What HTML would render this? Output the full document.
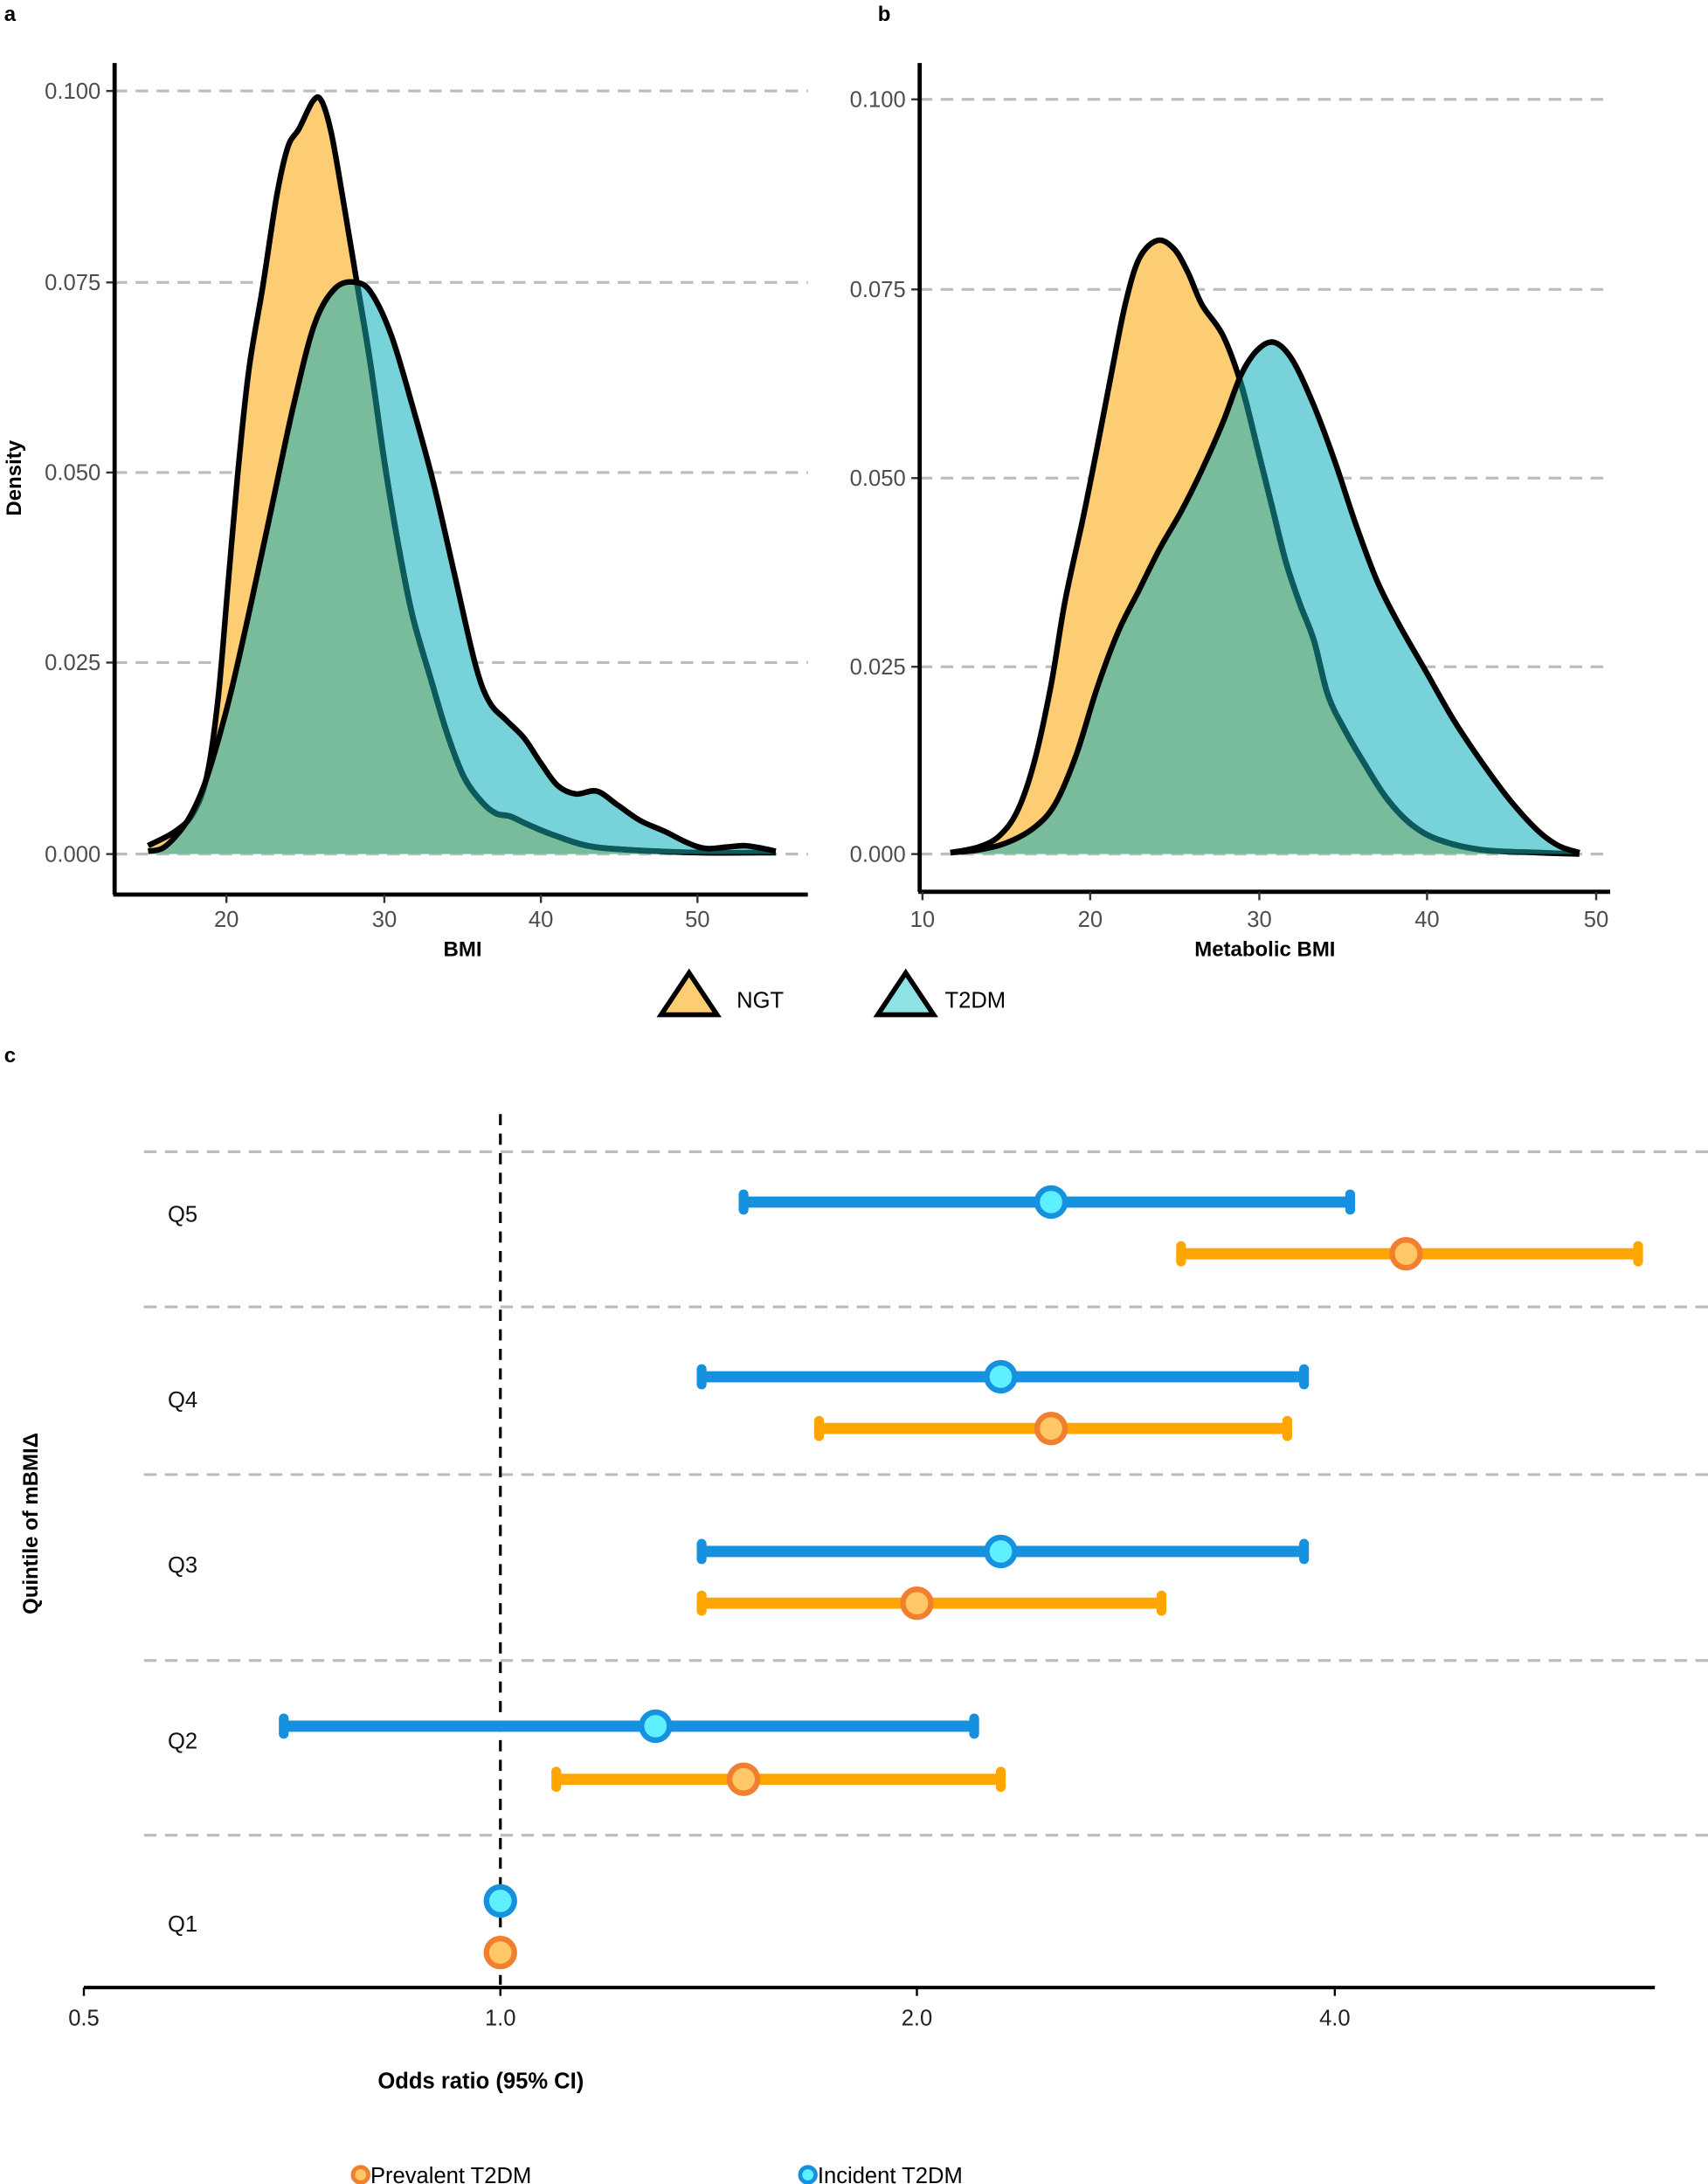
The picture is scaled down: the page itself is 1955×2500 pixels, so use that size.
<!DOCTYPE html>
<html><head><meta charset="utf-8"><style>
html,body{margin:0;padding:0;background:#fff;}
svg{display:block;}
text{font-family:"Liberation Sans",Arial,sans-serif;}
</style></head><body>
<svg id="s" width="1955" height="2500" viewBox="0 0 1222 1562.5" xmlns="http://www.w3.org/2000/svg">
<defs></defs>
<g id="root"></g>
</svg>
<script>
const NS="http://www.w3.org/2000/svg";
const root=document.getElementById('root'), defs=document.querySelector('defs');
function el(tag,attrs,parent,txt){if(typeof parent==='string'){txt=parent;parent=root;}
const e=document.createElementNS(NS,tag);for(const k in attrs)e.setAttribute(k,attrs[k]);if(txt!==undefined)e.textContent=txt;(parent||root).appendChild(e);return e;}
function cr(p){let d=`M${p[0][0]},${p[0][1]}`;for(let i=0;i<p.length-1;i++){const p0=p[i-1]||p[i],p1=p[i],p2=p[i+1],p3=p[i+2]||p2;
d+=` C${p1[0]+(p2[0]-p0[0])/6},${p1[1]+(p2[1]-p0[1])/6} ${p2[0]-(p3[0]-p1[0])/6},${p2[1]-(p3[1]-p1[1])/6} ${p2[0]},${p2[1]}`;}return d;}
const GRID='#bdbdbd', TXT='#4d4d4d';
function density(id,xaxis,grids,ngt,t2,base){
  const dN=cr(ngt), dT=cr(t2);
  const close=(d,p)=>d+` L${p[p.length-1][0]},${base} L${p[0][0]},${base} Z`;
  const fN=close(dN,ngt), fT=close(dT,t2);
  const cp=el('clipPath',{id:id+'cN'},defs); el('path',{d:fN},cp);
  const ct=el('clipPath',{id:id+'cT'},defs); el('path',{d:fT},ct);
  grids.forEach(g=>{el('line',{x1:xaxis.x0,x2:xaxis.x1,y1:g[0],y2:g[0],stroke:GRID,'stroke-width':2,'stroke-dasharray':'9,6'});
    el('line',{x1:xaxis.x0-6,x2:xaxis.x0,y1:g[0],y2:g[0],stroke:'#333','stroke-width':1.5});
    el('text',{x:xaxis.x0-10,y:g[0]+5.5,'text-anchor':'end','font-size':16,fill:TXT},g[1]);});
  el('path',{d:fN,fill:'#fdcd73'}); el('path',{d:fT,fill:'#77d3d9'});
  el('path',{d:fT,fill:'#78bc9b','clip-path':`url(#${id}cN)`});
  el('path',{d:dN,fill:'none',stroke:'#000','stroke-width':4,'stroke-linejoin':'round'});
  el('path',{d:dN,fill:'none',stroke:'#0d5a5c','stroke-width':4.2,'clip-path':`url(#${id}cT)`});
  el('path',{d:dT,fill:'none',stroke:'#000','stroke-width':4,'stroke-linejoin':'round'});
}
density('a',{x0:82,x1:578},[[65,'0.100'],[202,'0.075'],[338,'0.050'],[474,'0.025'],[611,'0.000']],
[[106,605],[125,595],[138,582],[148,555],[156,500],[163,420],[170,340],[178,265],[188,205],[198,140],[206,105],[214,92],[224,72],[230,72],[237,95],[245,140],[255,200],[265,260],[275,330],[285,390],[295,440],[308,485],[320,525],[332,556],[345,574],[355,582],[365,584],[378,590],[395,597],[420,605],[450,608],[500,610],[555,610]],
[[106,609],[116,607],[126,598],[136,584],[146,562],[156,530],[166,492],[180,430],[195,360],[210,290],[225,232],[240,206],[255,202],[266,210],[280,240],[295,290],[310,345],[325,410],[340,475],[350,502],[362,515],[375,528],[387,546],[399,562],[412,568],[427,566],[442,576],[458,587],[476,595],[492,603],[505,607],[520,606],[533,605],[546,607],[555,609]],611);
density('b',{x0:658,x1:1152},[[71,'0.100'],[207,'0.075'],[342,'0.050'],[477,'0.025'],[611,'0.000']],
[[680,610],[700,606],[715,598],[728,580],[740,545],[752,490],[762,430],[775,370],[785,320],[795,268],[805,218],[815,185],[828,172],[840,178],[850,195],[860,218],[875,240],[888,275],[900,322],[910,362],[920,402],[930,432],[940,458],[950,497],[962,522],[976,546],[992,571],[1010,590],[1030,601],[1060,608],[1100,610],[1130,611]],
[[680,610],[700,608],[720,603],[740,592],[755,575],[770,540],[785,492],[800,452],[815,422],[830,392],[845,366],[860,336],[875,302],[888,268],[900,250],[912,245],[925,258],[940,290],[955,330],[970,375],[985,415],[1000,445],[1020,480],[1040,515],[1060,545],[1080,572],[1100,594],[1115,605],[1130,610]],611);
el('line',{x1:82,x2:82,y1:45,y2:640,stroke:'#000','stroke-width':3});
el('line',{x1:81,x2:578,y1:640,y2:640,stroke:'#000','stroke-width':3});
[[162,'20'],[275,'30'],[387,'40'],[499,'50']].forEach(t=>{el('line',{x1:t[0],x2:t[0],y1:640,y2:646,stroke:'#333','stroke-width':1.5});el('text',{x:t[0],y:663,'text-anchor':'middle','font-size':16,fill:TXT},t[1]);});
el('line',{x1:658,x2:658,y1:45,y2:638,stroke:'#000','stroke-width':3});
el('line',{x1:657,x2:1152,y1:638,y2:638,stroke:'#000','stroke-width':3});
[[660,'10'],[780,'20'],[901,'30'],[1021,'40'],[1142,'50']].forEach(t=>{el('line',{x1:t[0],x2:t[0],y1:638,y2:644,stroke:'#333','stroke-width':1.5});el('text',{x:t[0],y:663,'text-anchor':'middle','font-size':16,fill:TXT},t[1]);});
el('text',{x:331,y:684,'text-anchor':'middle','font-size':15,'font-weight':'bold'},'BMI');
el('text',{x:905,y:684,'text-anchor':'middle','font-size':15,'font-weight':'bold'},'Metabolic BMI');
el('text',{x:15,y:342,'text-anchor':'middle','font-size':15,'font-weight':'bold',transform:'rotate(-90 15 342)'},'Density');
el('text',{x:3,y:15,'font-size':15,'font-weight':'bold'},'a');
el('text',{x:628,y:15,'font-size':15,'font-weight':'bold'},'b');
el('text',{x:3,y:760,'font-size':15,'font-weight':'bold'},'c');
el('polygon',{points:'473,726 493,696 513,726',fill:'#fdcd73',stroke:'#000','stroke-width':3.5});
el('text',{x:527,y:721,'font-size':16},'NGT');
el('polygon',{points:'628,726 648,696 668,726',fill:'#8ee2e6',stroke:'#000','stroke-width':3.5});
el('text',{x:676,y:721,'font-size':16},'T2DM');
[824,935,1055,1188,1313].forEach(y=>el('line',{x1:103,x2:1222,y1:y,y2:y,stroke:GRID,'stroke-width':2,'stroke-dasharray':'9,6'}));
el('line',{x1:358,x2:358,y1:797,y2:1420,stroke:'#000','stroke-width':2,'stroke-dasharray':'8,6'});
el('line',{x1:60,x2:1184,y1:1422,y2:1422,stroke:'#000','stroke-width':2.5});
[[60,'0.5'],[358,'1.0'],[656,'2.0'],[955,'4.0']].forEach(t=>{el('line',{x1:t[0],x2:t[0],y1:1422,y2:1428,stroke:'#000','stroke-width':1.5});el('text',{x:t[0],y:1449,'text-anchor':'middle','font-size':16,fill:'#222'},t[1]);});
const B='#1591e0',O='#ffa500';
function bar(y,x0,x1,px,blue){const c=blue?B:O;
 if(x0!==null){el('line',{x1:x0,x2:x1,y1:y,y2:y,stroke:c,'stroke-width':8});
 [x0,x1].forEach(x=>el('rect',{x:x-3.5,y:y-9,width:7,height:18,rx:3.5,fill:c}));}
 el('circle',{cx:px,cy:y,r:10,fill:blue?'#5ef0ff':'#ffc766',stroke:blue?'#1591e0':'#f08030','stroke-width':4});}
[['Q5',868,[860,532,966,752],[897,845,1172,1006]],['Q4',1001,[985,502,933,716],[1022,586,921,752]],['Q3',1119,[1110,502,933,716],[1147,502,831,656]],['Q2',1245,[1235,203,697,469],[1273,398,716,532]]].forEach(r=>{
 el('text',{x:120,y:r[1]+6,'font-size':16,fill:'#111'},r[0]);bar(r[2][0],r[2][1],r[2][2],r[2][3],true);bar(r[3][0],r[3][1],r[3][2],r[3][3],false);});
el('text',{x:120,y:1382,'font-size':16,fill:'#111'},'Q1');bar(1360,null,null,358,true);bar(1397,null,null,358,false);
el('text',{x:344,y:1494,'text-anchor':'middle','font-size':16,'font-weight':'bold'},'Odds ratio (95% CI)');
el('text',{x:27,y:1090,'text-anchor':'middle','font-size':15,'font-weight':'bold',transform:'rotate(-90 27 1090)'},'Quintile of mBMIΔ');
el('circle',{cx:258,cy:1556,r:5.5,fill:'#ffc766',stroke:'#f08030','stroke-width':3});
el('text',{x:265,y:1562,'font-size':16},'Prevalent T2DM');
el('circle',{cx:578,cy:1556,r:5.5,fill:'#5ef0ff',stroke:'#1591e0','stroke-width':3});
el('text',{x:585,y:1562,'font-size':16},'Incident T2DM');
</script>
</body></html>
